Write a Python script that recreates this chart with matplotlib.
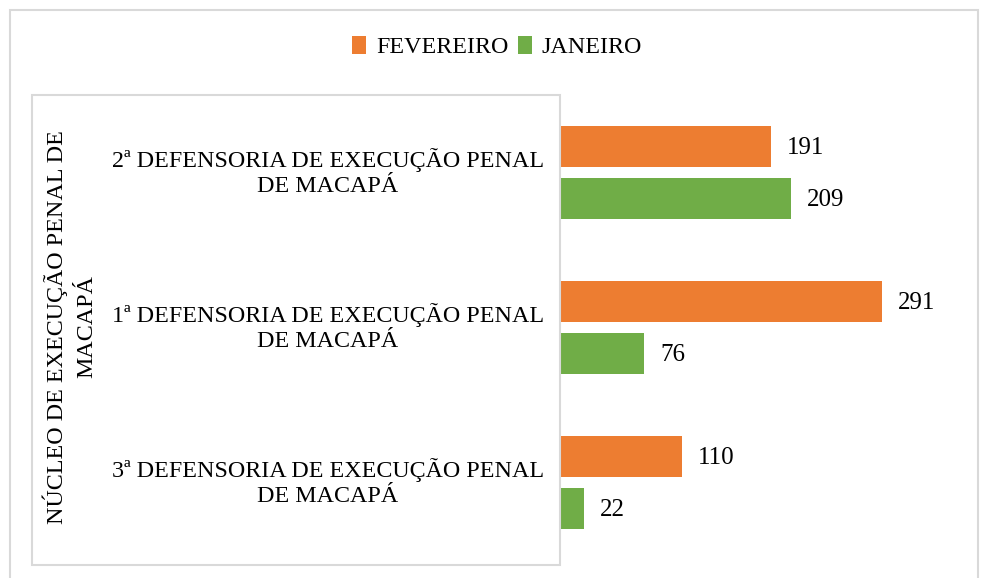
import matplotlib.pyplot as plt
from matplotlib.patches import Rectangle

# dados
categorias = ['2ª DEFENSORIA DE EXECUÇÃO PENAL\nDE MACAPÁ',
              '1ª DEFENSORIA DE EXECUÇÃO PENAL\nDE MACAPÁ',
              '3ª DEFENSORIA DE EXECUÇÃO PENAL\nDE MACAPÁ']
fevereiro = [191, 291, 110]
janeiro = [209, 76, 22]
grupo = 'NÚCLEO DE EXECUÇÃO PENAL DE\nMACAPÁ'

cor_fev = '#ED7D31'
cor_jan = '#70AD47'
cor_borda = '#D9D9D9'

plt.rcParams['font.family'] = ['Liberation Serif', 'DejaVu Serif']

W, H = 987, 578
fig = plt.figure(figsize=(W / 100, H / 100), dpi=100)


def fx(px):
    return px / W


def fy(py):
    return 1 - py / H


# eixo das barras: x de 560 a 960 px, y de 95 a 560 px
ax = fig.add_axes([fx(560), fy(560), fx(960) - fx(560), fy(95) - fy(560)])
escala = (882 - 560) / 291  # px por unidade
ax.set_xlim(0, 400 / escala)
ax.set_ylim(len(categorias) - 0.5, -0.5)

pos = list(range(len(categorias)))
altura = 0.265
ax.barh([p - 0.165 for p in pos], fevereiro, height=altura, color=cor_fev, label='FEVEREIRO')
ax.barh([p + 0.168 for p in pos], janeiro, height=altura, color=cor_jan, label='JANEIRO')

for p, v in zip(pos, fevereiro):
    ax.text(v + 16 / escala, p - 0.155, str(v), va='center', ha='left', fontsize=18)
for p, v in zip(pos, janeiro):
    ax.text(v + 16 / escala, p + 0.178, str(v), va='center', ha='left', fontsize=18)

ax.axis('off')

# rótulos das categorias
for p, c in zip(pos, categorias):
    yc = 95 + (p + 0.5) * 155
    fig.text(fx(328), fy(yc), c, ha='center', va='center', fontsize=17.3,
             multialignment='center', linespacing=1.25)

fig.text(fx(70), fy(327), grupo, ha='center', va='center', rotation=90,
         fontsize=17.3, multialignment='center', linespacing=1.5)

# caixas
fig.patches.append(Rectangle((fx(32), fy(565)), fx(560) - fx(32), fy(95) - fy(565),
                             transform=fig.transFigure, fill=False,
                             edgecolor=cor_borda, linewidth=1.5))
fig.patches.append(Rectangle((fx(10), fy(600)), fx(978) - fx(10), fy(10) - fy(600),
                             transform=fig.transFigure, fill=False,
                             edgecolor=cor_borda, linewidth=1.5))

# legenda
fig.legend(loc='center', bbox_to_anchor=(fx(497), fy(47)), ncol=2, frameon=False,
           fontsize=17.3, handlelength=0.6, handleheight=0.8, handletextpad=0.4,
           columnspacing=0.4)

fig.savefig('out.png', dpi=100)
